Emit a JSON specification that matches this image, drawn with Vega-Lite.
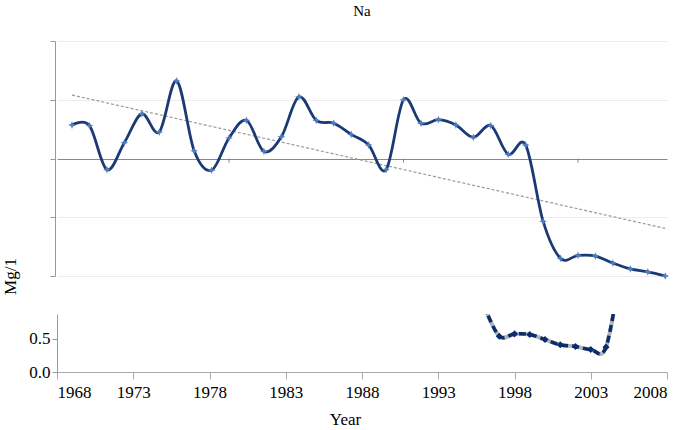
{
  "$schema": "https://vega.github.io/schema/vega-lite/v6.json",
  "padding": {"left": 0, "top": 3, "right": 5, "bottom": 5},
  "spacing": 38,
  "bounds": "flush",
  "config": {
    "view": {"stroke": null},
    "font": "'Liberation Serif', serif",
    "axis": {"labelFont": "'Liberation Serif', serif", "titleFont": "'Liberation Serif', serif", "labelColor": "#000", "titleColor": "#000", "titleFontWeight": "normal"}
  },
  "datasets": {
    "upper": [
      {"year": 1970, "value": 0.57}, {"year": 1971, "value": 0.56}, {"year": 1972, "value": -0.19},
      {"year": 1973, "value": 0.27}, {"year": 1974, "value": 0.76}, {"year": 1975, "value": 0.45},
      {"year": 1976, "value": 1.32}, {"year": 1977, "value": 0.13}, {"year": 1978, "value": -0.2},
      {"year": 1979, "value": 0.35}, {"year": 1980, "value": 0.65}, {"year": 1981, "value": 0.12},
      {"year": 1982, "value": 0.37}, {"year": 1983, "value": 1.05}, {"year": 1984, "value": 0.65},
      {"year": 1985, "value": 0.6}, {"year": 1986, "value": 0.41}, {"year": 1987, "value": 0.23},
      {"year": 1988, "value": -0.19}, {"year": 1989, "value": 1.0}, {"year": 1990, "value": 0.6},
      {"year": 1991, "value": 0.66}, {"year": 1992, "value": 0.57}, {"year": 1993, "value": 0.36},
      {"year": 1994, "value": 0.56}, {"year": 1995, "value": 0.07}, {"year": 1996, "value": 0.23},
      {"year": 1997, "value": -1.07}, {"year": 1998, "value": -1.7}, {"year": 1999, "value": -1.65},
      {"year": 2000, "value": -1.66}, {"year": 2001, "value": -1.78}, {"year": 2002, "value": -1.88},
      {"year": 2003, "value": -1.93}, {"year": 2004, "value": -2.0}
    ],
    "trend": [
      {"year": 1970, "value": 1.08}, {"year": 2004, "value": -1.19}
    ],
    "ticks": [
      {"year": 1979, "value": 0, "end": -0.07}, {"year": 1989, "value": 0, "end": -0.07}, {"year": 1999, "value": 0, "end": -0.07}
    ],
    "lower": [
      {"year": 1996, "value": 1.0}, {"year": 1997, "value": 0.54}, {"year": 1998, "value": 0.575},
      {"year": 1999, "value": 0.565}, {"year": 2000, "value": 0.49}, {"year": 2001, "value": 0.41},
      {"year": 2002, "value": 0.385}, {"year": 2003, "value": 0.34}, {"year": 2004, "value": 0.375},
      {"year": 2005, "value": 1.6}
    ]
  },
  "vconcat": [
    {
      "width": 610,
      "height": 235,
      "title": {"text": "Na", "fontSize": 15, "font": "'Liberation Serif', serif", "fontWeight": "normal", "anchor": "middle", "frame": "group", "offset": 22, "color": "#000"},
      "encoding": {
        "x": {"field": "year", "type": "quantitative",
          "scale": {"domain": [1969.14, 2004.1], "nice": false, "zero": false},
          "axis": null},
        "y": {"field": "value", "type": "quantitative",
          "scale": {"domain": [-2, 2], "nice": false, "zero": false},
          "axis": {"values": [-2, -1, 0, 1, 2], "labels": false, "tickSize": 5, "tickColor": "#999", "domainColor": "#999", "offset": 2, "title": null,
            "grid": true, "gridColor": {"condition": {"test": "datum.value === 0", "value": "#888"}, "value": "#ececec"}}}
      },
      "layer": [
        {"data": {"name": "ticks"}, "mark": {"type": "rule", "color": "#888", "strokeWidth": 1}, "encoding": {"y2": {"field": "end"}}},
        {"data": {"name": "trend"}, "mark": {"type": "line", "color": "#999", "strokeWidth": 1.2, "strokeDash": [3, 2]}},
        {"data": {"name": "upper"}, "mark": {"type": "line", "color": "#1b3a75", "strokeWidth": 2.8, "interpolate": "cardinal"}},
        {"data": {"name": "upper"}, "mark": {"type": "point", "filled": true, "shape": "M0,-1L0.3,-0.3L1,0L0.3,0.3L0,1L-0.3,0.3L-1,0L-0.3,-0.3Z", "size": 60, "color": "#4f7fc0", "opacity": 0.95}}
      ]
    },
    {
      "width": 610,
      "height": 58,
      "data": {"name": "lower"},
      "encoding": {
        "x": {"field": "year", "type": "quantitative",
          "scale": {"domain": [1968, 2008], "nice": false, "zero": false},
          "axis": {"values": [1968, 1973, 1978, 1983, 1988, 1993, 1998, 2003, 2008], "format": "d", "labelFontSize": 17, "tickSize": 7, "tickColor": "#aaa", "domainColor": "#aaa", "labelPadding": 5, "grid": false,
            "title": "Year", "titleFontSize": 17, "titlePadding": 11, "titleX": 288}},
        "y": {"field": "value", "type": "quantitative",
          "scale": {"domain": [0, 0.875], "nice": false, "zero": false},
          "axis": {"values": [0, 0.5], "format": ".1f", "labelFontSize": 17, "tickSize": 5, "tickColor": "#999", "domainColor": "#999", "grid": false, "labelPadding": 2,
            "title": "Mg/1", "titleFontSize": 17, "titleAngle": -90, "titleBaseline": "alphabetic", "titleX": -42, "titleY": -38}}
      },
      "layer": [
        {"mark": {"type": "line", "color": "#b3b3b3", "strokeWidth": 4, "interpolate": "cardinal", "clip": true}},
        {"mark": {"type": "line", "color": "#0b2c6b", "strokeWidth": 3.5, "strokeDash": [7, 4], "interpolate": "cardinal", "clip": true}},
        {"mark": {"type": "point", "shape": "diamond", "filled": true, "size": 50, "color": "#0b2c6b", "opacity": 1, "clip": true}}
      ]
    }
  ],
  "resolve": {"scale": {"x": "independent", "y": "independent"}}
}
